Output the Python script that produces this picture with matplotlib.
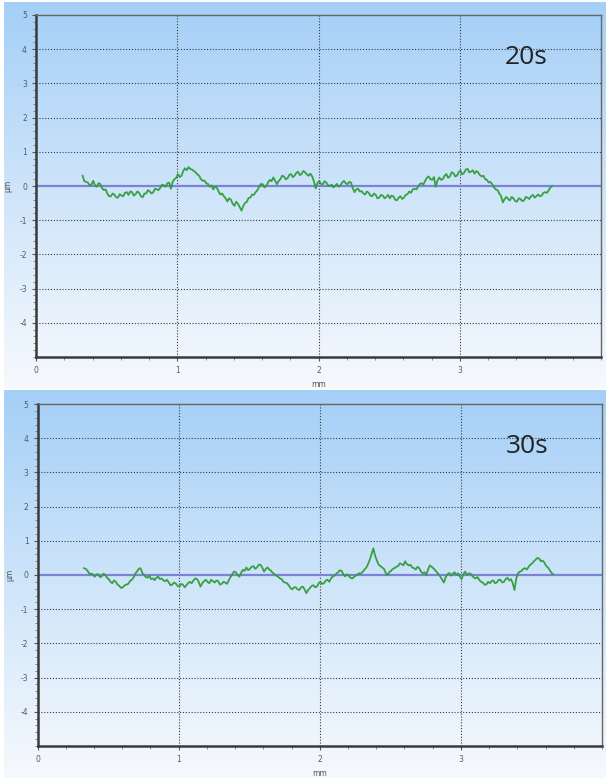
import numpy as np
import matplotlib
matplotlib.use("Agg")
import matplotlib.pyplot as plt
from matplotlib.colors import LinearSegmentedColormap
from matplotlib.ticker import MultipleLocator

# ---------------- data ----------------
panel_labels = ["20s", "30s"]
x_tick_values = [0, 1, 2, 3]
y_tick_values = [-4, -3, -2, -1, 0, 1, 2, 3, 4, 5]
x_unit = "mm"
y_unit = "µm"

x_start_20s, x_end_20s = 0.33, 3.655
profile_20s = [
    0.30, 0.14, 0.12, 0.10, 0.02, 0.04, 0.15, 0.02, -0.02, 0.08, 0.06, -0.06, -0.12, -0.10, -0.22, -0.30, -0.30, -0.22, -0.25, -0.33,
    -0.34, -0.24, -0.28, -0.30, -0.20, -0.18, -0.26, -0.16, -0.18, -0.28, -0.24, -0.16, -0.20, -0.30, -0.33, -0.22, -0.22, -0.12, -0.16, -0.22,
    -0.18, -0.08, -0.10, -0.12, -0.05, 0.04, 0.02, -0.02, 0.08, 0.10, -0.08, 0.12, 0.20, 0.24, 0.35, 0.26, 0.30, 0.44, 0.52, 0.46,
    0.55, 0.50, 0.48, 0.44, 0.40, 0.34, 0.30, 0.20, 0.15, 0.16, 0.08, 0.06, -0.02, 0.02, -0.10, -0.02, -0.05, -0.16, -0.25, -0.22,
    -0.30, -0.36, -0.45, -0.36, -0.40, -0.52, -0.58, -0.46, -0.52, -0.62, -0.72, -0.58, -0.50, -0.46, -0.35, -0.34, -0.25, -0.26, -0.18, -0.12,
    -0.02, 0.06, 0.05, -0.04, 0.00, 0.10, 0.18, 0.14, 0.25, 0.16, 0.05, 0.14, 0.20, 0.30, 0.28, 0.20, 0.22, 0.32, 0.35, 0.26,
    0.30, 0.38, 0.42, 0.32, 0.35, 0.44, 0.40, 0.34, 0.30, 0.36, 0.28, 0.14, -0.07, 0.08, 0.15, 0.06, 0.05, 0.14, 0.10, 0.02,
    0.00, 0.04, -0.04, 0.00, 0.06, -0.02, 0.02, 0.10, 0.15, 0.08, 0.05, 0.12, 0.10, -0.06, -0.18, -0.10, -0.08, -0.16, -0.15, -0.22,
    -0.25, -0.16, -0.20, -0.28, -0.30, -0.22, -0.26, -0.36, -0.34, -0.26, -0.28, -0.36, -0.32, -0.26, -0.36, -0.28, -0.30, -0.40, -0.42, -0.34,
    -0.30, -0.38, -0.34, -0.26, -0.24, -0.16, -0.20, -0.10, -0.08, -0.10, -0.02, 0.06, 0.08, 0.04, 0.15, 0.24, 0.28, 0.20, 0.18, 0.26,
    -0.02, 0.16, 0.25, 0.18, 0.20, 0.30, 0.35, 0.24, 0.28, 0.40, 0.38, 0.28, 0.30, 0.40, 0.45, 0.34, 0.38, 0.48, 0.50, 0.40,
    0.42, 0.46, 0.36, 0.44, 0.40, 0.32, 0.28, 0.30, 0.20, 0.18, 0.10, 0.12, 0.05, -0.04, -0.10, -0.12, -0.22, -0.30, -0.48, -0.38,
    -0.32, -0.38, -0.42, -0.32, -0.36, -0.44, -0.46, -0.36, -0.38, -0.44, -0.42, -0.32, -0.34, -0.38, -0.30, -0.26, -0.34, -0.30, -0.25, -0.30,
    -0.28, -0.20, -0.18, -0.20, -0.12, -0.04, 0.00,
]

x_start_30s, x_end_30s = 0.33, 3.655
profile_30s = [
    0.20, 0.18, 0.12, 0.04, 0.04, 0.02, -0.05, 0.02, 0.02, -0.06, -0.04, 0.04, 0.00, -0.08, -0.12, -0.20, -0.24, -0.16, -0.20, -0.28,
    -0.32, -0.38, -0.36, -0.30, -0.28, -0.26, -0.18, -0.14, -0.08, 0.04, 0.10, 0.18, 0.20, 0.06, 0.00, -0.06, -0.08, -0.02, -0.12, -0.10,
    -0.15, -0.08, -0.05, -0.12, -0.10, -0.16, -0.18, -0.14, -0.22, -0.30, -0.28, -0.22, -0.25, -0.32, -0.34, -0.26, -0.28, -0.36, -0.30, -0.24,
    -0.20, -0.24, -0.16, -0.10, -0.12, -0.20, -0.34, -0.24, -0.18, -0.14, -0.20, -0.24, -0.14, -0.18, -0.22, -0.16, -0.18, -0.28, -0.26, -0.20,
    -0.22, -0.26, -0.16, -0.06, 0.02, 0.10, 0.08, 0.00, -0.05, 0.06, 0.15, 0.12, 0.22, 0.14, 0.18, 0.24, 0.26, 0.18, 0.22, 0.30,
    0.30, 0.22, 0.10, 0.18, 0.22, 0.16, 0.12, 0.06, 0.02, -0.02, -0.05, -0.10, -0.12, -0.20, -0.22, -0.24, -0.30, -0.38, -0.42, -0.36,
    -0.36, -0.42, -0.44, -0.36, -0.34, -0.42, -0.53, -0.44, -0.38, -0.32, -0.30, -0.36, -0.34, -0.24, -0.20, -0.26, -0.24, -0.16, -0.14, -0.20,
    -0.10, -0.04, -0.02, 0.04, 0.08, 0.14, 0.12, 0.02, -0.04, 0.02, -0.02, -0.08, -0.10, -0.06, -0.02, 0.02, 0.05, 0.04, 0.10, 0.16,
    0.22, 0.32, 0.45, 0.62, 0.78, 0.56, 0.42, 0.30, 0.26, 0.22, 0.18, 0.06, 0.00, 0.08, 0.12, 0.18, 0.20, 0.24, 0.26, 0.34,
    0.32, 0.28, 0.40, 0.32, 0.28, 0.30, 0.22, 0.20, 0.16, 0.24, 0.20, 0.10, 0.05, 0.08, 0.00, 0.16, 0.28, 0.24, 0.20, 0.14,
    0.08, 0.02, -0.05, -0.14, -0.22, -0.06, 0.02, 0.06, -0.02, 0.04, 0.08, 0.00, 0.05, -0.04, -0.12, 0.02, 0.10, 0.00, 0.05, 0.04,
    -0.02, -0.08, -0.10, -0.06, -0.14, -0.20, -0.22, -0.28, -0.28, -0.20, -0.24, -0.18, -0.16, -0.24, -0.22, -0.14, -0.14, -0.22, -0.20, -0.12,
    -0.08, -0.16, -0.12, -0.24, -0.44, -0.10, 0.05, 0.10, 0.12, 0.18, 0.20, 0.16, 0.24, 0.30, 0.34, 0.40, 0.45, 0.50, 0.48, 0.40,
    0.42, 0.36, 0.26, 0.22, 0.14, 0.06, 0.02,
]

series = [
    (x_start_20s, x_end_20s, profile_20s),
    (x_start_30s, x_end_30s, profile_30s),
]

# ---------------- figure ----------------
W, H = 606, 778
fig = plt.figure(figsize=(W / 100, H / 100), dpi=100)
fig.patch.set_facecolor("white")

grad_cmap = LinearSegmentedColormap.from_list(
    "bg", ["#a4cff7", "#cfe5fa", "#f6f9fd"])

# panel rectangles in pixels: (x0, y_top, x1, y_bottom)
panels_px = [(4, 2, 606, 388), (4, 390, 606, 778)]
axes_px = [(36, 15, 601, 357), (37.5, 404, 602, 746)]

def frac(rect):
    x0, yt, x1, yb = rect
    return [x0 / W, 1 - yb / H, (x1 - x0) / W, (yb - yt) / H]

grad = np.linspace(0, 1, 256).reshape(-1, 1)

for k in range(2):
    bg = fig.add_axes(frac(panels_px[k]), zorder=0)
    bg.imshow(grad, aspect="auto", cmap=grad_cmap, extent=[0, 1, 0, 1],
              origin="upper", interpolation="bicubic")
    bg.set_axis_off()

    ax = fig.add_axes(frac(axes_px[k]), zorder=1)
    ax.set_facecolor("none")
    x0, x1, vals = series[k]
    xs = np.linspace(x0, x1, len(vals))

    ax.set_xlim(0, 4)
    ax.set_ylim(-5, 5)
    ax.set_xticks(x_tick_values)
    ax.set_xticklabels([str(v) for v in x_tick_values])
    ax.set_yticks(y_tick_values)
    ax.set_yticklabels([str(v) for v in y_tick_values])
    ax.xaxis.set_minor_locator(MultipleLocator(0.2))
    ax.yaxis.set_minor_locator(MultipleLocator(0.2))
    ax.tick_params(which="major", direction="out", length=3, width=0.8,
                   color="#555555", labelsize=5.5, labelcolor="#5a5a5a", pad=3.5)
    ax.tick_params(which="minor", direction="out", length=2, width=0.6,
                   color="#777777")

    # dotted grid
    for gx in x_tick_values[1:]:
        ax.axvline(gx, color="#3a3a3a", lw=0.8, ls=(0, (1.0, 1.6)), zorder=1)
    for gy in y_tick_values:
        if gy in (0, 5):
            continue
        ax.axhline(gy, color="#3a3a3a", lw=0.8, ls=(0, (1.0, 1.6)), zorder=1)

    # zero reference line
    ax.axhline(0, color="#7d82d6", lw=1.6, zorder=2)

    # profile
    ax.plot(xs, vals, color="#2f9e38", lw=1.3, zorder=3, alpha=0.95)

    for side in ("left", "bottom"):
        ax.spines[side].set_linewidth(1.8)
        ax.spines[side].set_color("#3a3a3a")
    for side in ("top", "right"):
        ax.spines[side].set_linewidth(1.0)
        ax.spines[side].set_color("#666666")

    ax.set_ylabel(y_unit, fontsize=5.5, color="#555555", rotation=90)
    ax.yaxis.set_label_coords(-0.041, 0.5)
    ax.set_xlabel(x_unit, fontsize=5.5, color="#555555")
    ax.xaxis.set_label_coords(0.5, -0.068)

    ax.text(0.868, 0.875, panel_labels[k], transform=ax.transAxes,
            fontsize=19, family=["Open Sans", "DejaVu Sans"], color="#222222",
            ha="center", va="center", zorder=4)

fig.savefig("out.png", dpi=100, facecolor="white")
